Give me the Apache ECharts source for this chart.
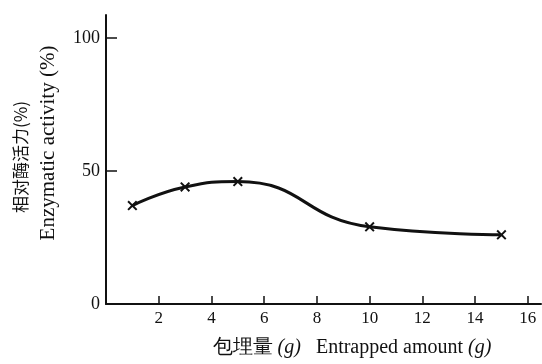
<!DOCTYPE html>
<html>
<head>
<meta charset="utf-8">
<script src="https://cdn.jsdelivr.net/npm/echarts@6/dist/echarts.min.js"></script>
<style>
html, body { margin: 0; padding: 0; background: #fff; }
#chart { width: 542px; height: 364px; }
</style>
</head>
<body>
<div id="chart"></div>
<script>
var amounts = [1, 3, 5, 10, 15];
var activity = [37, 44, 46, 29, 26];
var xTicks = [2, 4, 6, 8, 10, 12, 14, 16];
var yLabels = [0, 50, 100];
var yTicks = [50, 100];

var serif = '"Liberation Serif", "DejaVu Serif", serif';
var crossMark = 'path://M0,1.4L1.4,0L5,3.6L8.6,0L10,1.4L6.4,5L10,8.6L8.6,10L5,6.4L1.4,10L0,8.6L3.6,5Z';

var chart = echarts.init(document.getElementById('chart'));
var points = [];
for (var i = 0; i < amounts.length; i++) {
	points.push([amounts[i], activity[i]]);
}

var option = {
	animation: false,
	backgroundColor: '#fff',
	grid: { left: 106, right: 1, top: 15, bottom: 60 },
	xAxis: {
		type: 'value',
		min: 0,
		max: 16.5,
		axisLine: { lineStyle: { color: '#111', width: 2 } },
		axisTick: { inside: true, length: 8, customValues: xTicks, lineStyle: { color: '#111', width: 1.5 } },
		axisLabel: { customValues: xTicks, margin: 6, color: '#111', fontSize: 17, fontFamily: serif },
		splitLine: { show: false }
	},
	yAxis: {
		type: 'value',
		min: 0,
		max: 108.6,
		axisLine: { show: true, lineStyle: { color: '#111', width: 2 } },
		axisTick: { show: true, inside: true, length: 11, customValues: yTicks, lineStyle: { color: '#111', width: 1.5 } },
		axisLabel: { customValues: yLabels, margin: 6, color: '#111', fontSize: 18, fontFamily: serif },
		splitLine: { show: false }
	},
	graphic: [
		{ type: 'text', x: 21, y: 157, rotation: Math.PI / 2, style: { text: '相对酶活力(%)', fontSize: 17, fontFamily: '"Noto Sans CJK SC", sans-serif', fill: '#111', align: 'center', verticalAlign: 'middle' } },
		{ type: 'text', x: 48, y: 143, rotation: Math.PI / 2, style: { text: 'Enzymatic activity (%)', fontSize: 21, fontFamily: serif, fill: '#111', align: 'center', verticalAlign: 'middle' } },
		{ type: 'text', x: 352, y: 348, style: {
			text: '包埋量 {i|(g)}   Entrapped amount {i|(g)}',
			fontSize: 20, fontFamily: serif, fill: '#111', align: 'center', verticalAlign: 'middle',
			rich: { i: { fontSize: 20, fontFamily: serif, fontStyle: 'italic', fill: '#111' } }
		} }
	],
	series: [{
		type: 'line',
		data: points,
		smooth: 0.5,
		symbol: crossMark,
		symbolSize: 10,
		itemStyle: { color: '#111' },
		lineStyle: { color: '#111', width: 3 }
	}]
};
chart.setOption(option);
</script>
</body>
</html>
